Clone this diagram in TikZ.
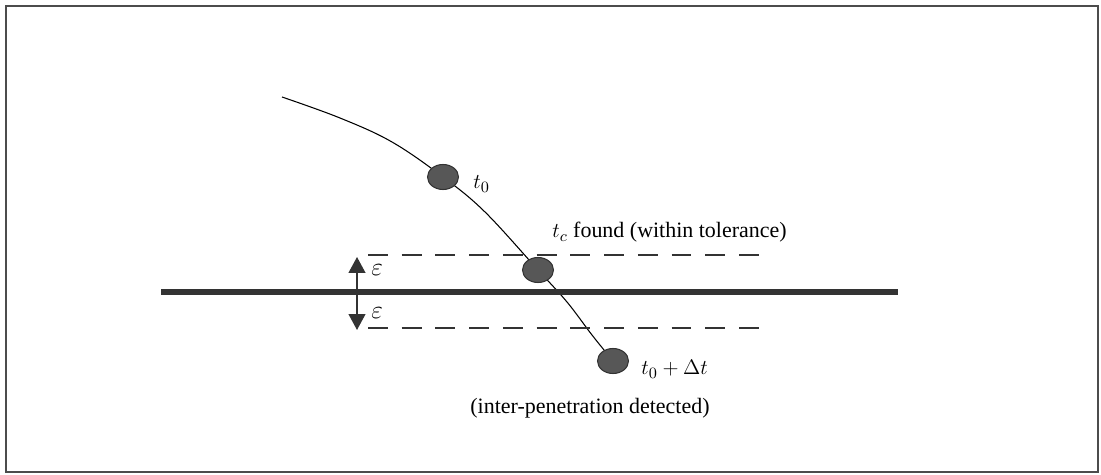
\documentclass[tikz,border=0pt]{standalone}
\usepackage{fontspec}
\setmainfont{Liberation Serif}
\usetikzlibrary{arrows.meta,shapes.geometric}
\begin{document}
\begin{tikzpicture}[x=0.02cm,y=-0.02cm,
  ball/.style={ellipse,draw=black!80,fill=black!66,line width=0.6pt,minimum width=31*0.02cm,minimum height=25*0.02cm,inner sep=0pt},
  lbl/.style={font=\fontsize{12.5}{15}\selectfont,inner sep=0pt},
  epslbl/.style={font=\fontsize{15}{18}\selectfont,inner sep=0pt},
  dashline/.style={black!80,line width=0.7pt,dash pattern=on 11.3pt off 7.9pt},
  epsarrow/.style={black!80,line width=0.9pt,-{Triangle[width=9.5pt,length=9pt]}},
  path/.style={black,line width=0.6pt}]
\useasboundingbox (0,0) rectangle (1101,475);
% frame
\draw[black!70,line width=1pt] (6,6) rectangle (1098,472);
% trajectory
\draw[path] plot[smooth,tension=0.6] coordinates {(282,97) (340,118) (392,142) (443,177) (485,212) (538,270) (567,302) (592,335) (613,361)};
% ground line
\coordinate (gl) at (161,292);
\coordinate (gr) at (898,292);
\draw[black!80,line width=3pt] (gl) -- (gr);
% tolerance lines
\coordinate (ul) at (368,255);
\coordinate (ur) at (768,255);
\coordinate (ll) at (368,328);
\coordinate (lr) at (768,328);
\draw[dashline] (ul) -- (ur);
\draw[dashline] (ll) -- (lr);
% balls
\node[ball] (b0) at (443,177) {};
\node[ball] (bc) at (538,270) {};
\node[ball] (b1) at (613,361) {};
% epsilon arrows
\coordinate (ua) at (357,290);
\coordinate (ub) at (357,257);
\coordinate (da) at (357,295);
\coordinate (db) at (357,330);
\draw[epsarrow] (ua) -- (ub);
\draw[epsarrow] (da) -- (db);
\node[epslbl,anchor=west] (e1) at (371,270) {$\varepsilon$};
\node[epslbl,anchor=west] (e2) at (371,313) {$\varepsilon$};
% labels
\node[lbl,anchor=west] (t0) at (473,184) {$t_0$};
\node[lbl,anchor=base west] (tc) at (552,238) {$t_c$ found (within tolerance)};
\node[lbl,anchor=base west] (td) at (641,375) {$t_0+\Delta t$};
\node[lbl,anchor=base] (ip) at (590,414) {(inter-penetration detected)};
\end{tikzpicture}
\end{document}
